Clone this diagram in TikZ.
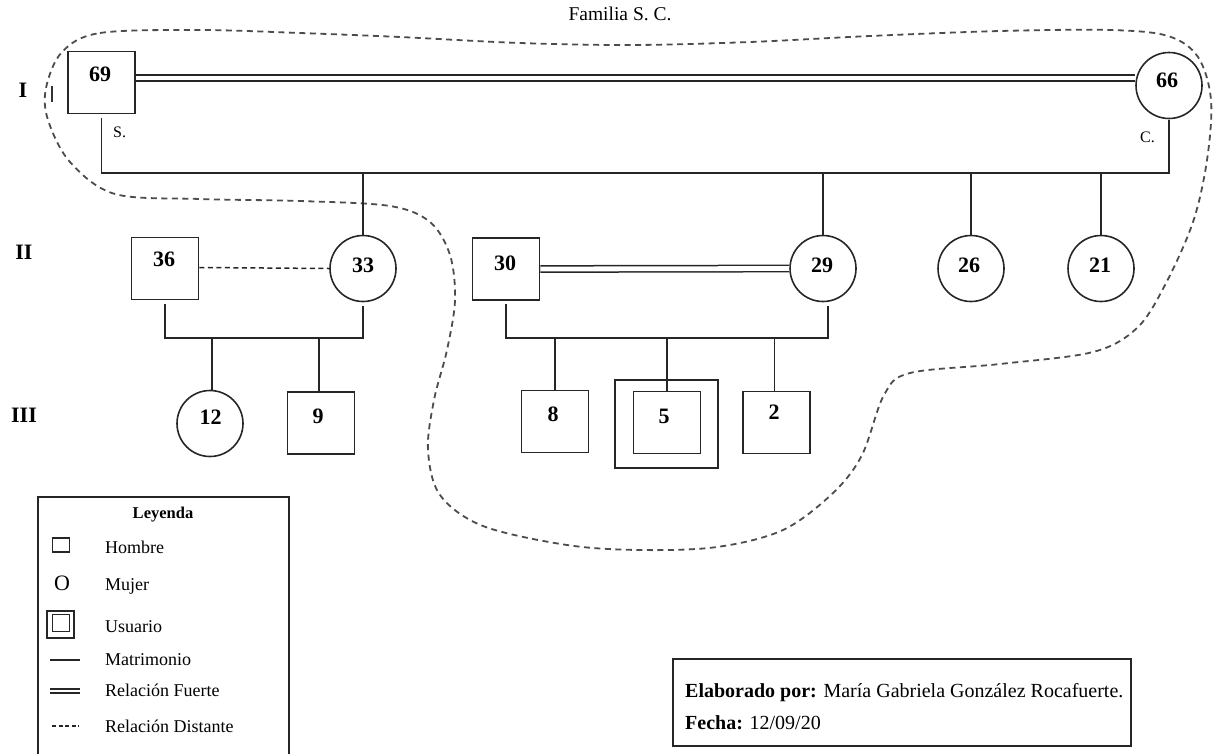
\documentclass[tikz,border=0pt]{standalone}
\usepackage{fontspec}
\setmainfont{Liberation Serif}
\usetikzlibrary{calc}
\begin{document}
\begin{tikzpicture}[x=1pt,y=-1pt,
  ln/.style={line width=1.6pt, draw=black!85},
  sq/.style={draw=black!85, line width=1.6pt, minimum width=67pt, minimum height=62pt, inner sep=0pt},
  ci/.style={draw=black!85, circle, line width=1.6pt, minimum size=66pt, inner sep=0pt},
  num/.style={font=\fontsize{22}{24}\selectfont\bfseries, inner sep=0pt},
  gen/.style={font=\fontsize{22}{24}\selectfont\bfseries, inner sep=0pt},
  dbl/.style={draw=black!85, double=white, double distance=4.8pt, line width=1.5pt},
  dsh/.style={draw=black!85, line width=1.5pt, dash pattern=on 5pt off 3.5pt},
  bound/.style={draw=black!70, line width=1.8pt, dash pattern=on 6pt off 4.5pt},
  lt/.style={font=\fontsize{18}{20}\selectfont, anchor=base west, inner sep=0pt},
  small/.style={font=\fontsize{16}{18}\selectfont, anchor=base west, inner sep=0pt},
  info/.style={font=\fontsize{20}{22}\selectfont, anchor=base west, inner sep=0pt},
]
\useasboundingbox (0,0) rectangle (1214,753);

% title
\node[font=\fontsize{19.5}{21}\selectfont, inner sep=0pt] (title) at (620,14) {Familia S. C.};

% generation labels
\node[gen] (gI) at (23,90) {I};
\node[gen] (gII) at (24,252) {II};
\node[gen] (gIII) at (24,415) {III};
\draw[line width=1.2pt, draw=black!80] (52,86) -- (52,102);

% boundary
\draw[bound] plot[smooth cycle, tension=0.55] coordinates {
 (62,52) (100,33) (200,30) (300,33) (400,37) (520,43) (633,45) (750,42)
 (870,36) (1000,31) (1110,30) (1168,36) (1198,57) (1211,100) (1207,160)
 (1193,222) (1165,285) (1137,328) (1093,352) (1000,364) (910,373)
 (884,395) (862,455) (833,493) (783,530) (717,547) (640,550) (567,545)
 (483,526) (440,495) (428,450) (434,400) (447,350) (455,300) (450,255)
 (430,222) (390,206) (300,201) (200,199) (115,194) (70,162) (48,120) (46,88)};

% generation I
\node[sq] (n69) at (101.5,82.5) {};
\node[num] (t69) at (100,74) {69};
\node[ci] (n66) at (1169,85.5) {};
\node[num] (t66) at (1167,80.5) {66};
\node[small] (lS) at (113,137) {S.};
\node[small] (lC) at (1140,142) {C.};
\draw[dbl] ([yshift=4.5pt]n69.east) -- ([yshift=4.5pt]n69.east -| n66.west);
\coordinate (f1) at (361,173);
\draw[ln] ([yshift=-4pt]n69.south) |- (n66.south |- f1) -- ([yshift=-1pt]n66.south);

% generation II
\node[sq] (n36) at (165,268.5) {};
\node[num] (t36) at (164,259.5) {36};
\node[ci] (n33) at (363,268.5) {};
\node[num] (t33) at (363,265) {33};
\node[sq] (n30) at (506,269) {};
\node[num] (t30) at (505,263.5) {30};
\node[ci] (n29) at (823,268.5) {};
\node[num] (t29) at (822,265.5) {29};
\node[ci] (n26) at (971,268.5) {};
\node[num] (t26) at (969,265) {26};
\node[ci] (n21) at (1101,268.5) {};
\node[num] (t21) at (1100,265) {21};

\draw[ln] (n33.north |- f1) -- (n33.north);
\draw[ln] (n29.north |- f1) -- (n29.north);
\draw[ln] (n26.north |- f1) -- (n26.north);
\draw[ln] (n21.north |- f1) -- (n21.north);

\draw[dsh] ([yshift=1pt]n36.east) -- (n33.west);
\draw[dbl] (n30.east) -- (n29.west);

\coordinate (f2) at (200,338);
\coordinate (f3) at (600,338);
\draw[ln] ([yshift=-4pt]n36.south) |- (n33.south |- f2) -- ([yshift=-4pt]n33.south);
\draw[ln] ([yshift=-3pt]n30.south) |- ([xshift=5pt]n29.south |- f3) -- ([xshift=5pt,yshift=-4pt]n29.south);

% generation III
\node[ci] (n12) at (210,423.5) {};
\node[num] (t12) at (210.5,417.5) {12};
\node[sq] (n9) at (321,423) {};
\node[num] (t9) at (318,416) {9};
\node[sq] (n8) at (555,421.5) {};
\node[num] (t8) at (553,414.5) {8};
\node[draw=black!85, line width=1.6pt, minimum width=103pt, minimum height=88pt, inner sep=0pt] (n5o) at (666.5,424) {};
\node[sq] (n5) at (667,422.5) {};
\node[num] (t5) at (664,416.5) {5};
\node[sq] (n2) at (776.5,422.5) {};
\node[num] (t2) at (774,412.5) {2};

\draw[ln] ([xshift=2pt]n12.north |- f2) -- ([xshift=2pt]n12.north);
\draw[ln] ([xshift=-2pt]n9.north |- f2) -- ([xshift=-2pt]n9.north);
\draw[ln] (n8.north |- f3) -- (n8.north);
\draw[ln] (n5.north |- f3) -- (n5.north);
\draw[ln] ([xshift=-2pt]n2.north |- f3) -- ([xshift=-2pt]n2.north);

% legend
\draw[line width=1.6pt, draw=black!85] (38,497) rectangle (289,780);
\node[font=\fontsize{16.5}{18}\selectfont\bfseries, inner sep=0pt, anchor=base] (leyenda) at (163,518) {Leyenda};
\node[draw=black!85, line width=1.5pt, minimum width=17pt, minimum height=14pt, inner sep=0pt] (sH) at (61,545) {};
\node[lt] (tH) at (105,553) {Hombre};
\node[font=\fontsize{22}{24}\selectfont, inner sep=0pt] (sM) at (62,583) {O};
\node[lt] (tM) at (105,590) {Mujer};
\node[draw=black!85, line width=1.5pt, minimum width=27pt, minimum height=27pt, inner sep=0pt] (sU) at (60.5,624.5) {};
\node[draw=black!85, line width=1.5pt, minimum width=17pt, minimum height=17pt, inner sep=0pt] (sU2) at (61,623) {};
\node[lt] (tU) at (105,632) {Usuario};
\draw[line width=1.5pt, draw=black!85] (50,660) -- (80,660);
\node[lt] (tMa) at (105,665) {Matrimonio};
\draw[draw=black!85, double=white, double distance=2.6pt, line width=1.4pt] (50,691) -- (80,691);
\node[lt] (tRF) at (105,696) {Relación Fuerte};
\draw[line width=1.5pt, draw=black!85, dash pattern=on 4pt off 2.5pt] (52,726) -- (79,726);
\node[lt] (tRD) at (105,732) {Relación Distante};

% info box
\node[draw=black!85, line width=1.6pt, minimum width=458pt, minimum height=87pt, inner sep=0pt, anchor=north west] (infobox) at (672,658) {};
\node[info] (elab) at (685,697) {\textbf{Elaborado por:} María Gabriela González Rocafuerte.};
\node[info] (fecha) at (685,729) {\textbf{Fecha:} 12/09/20};
\end{tikzpicture}
\end{document}
